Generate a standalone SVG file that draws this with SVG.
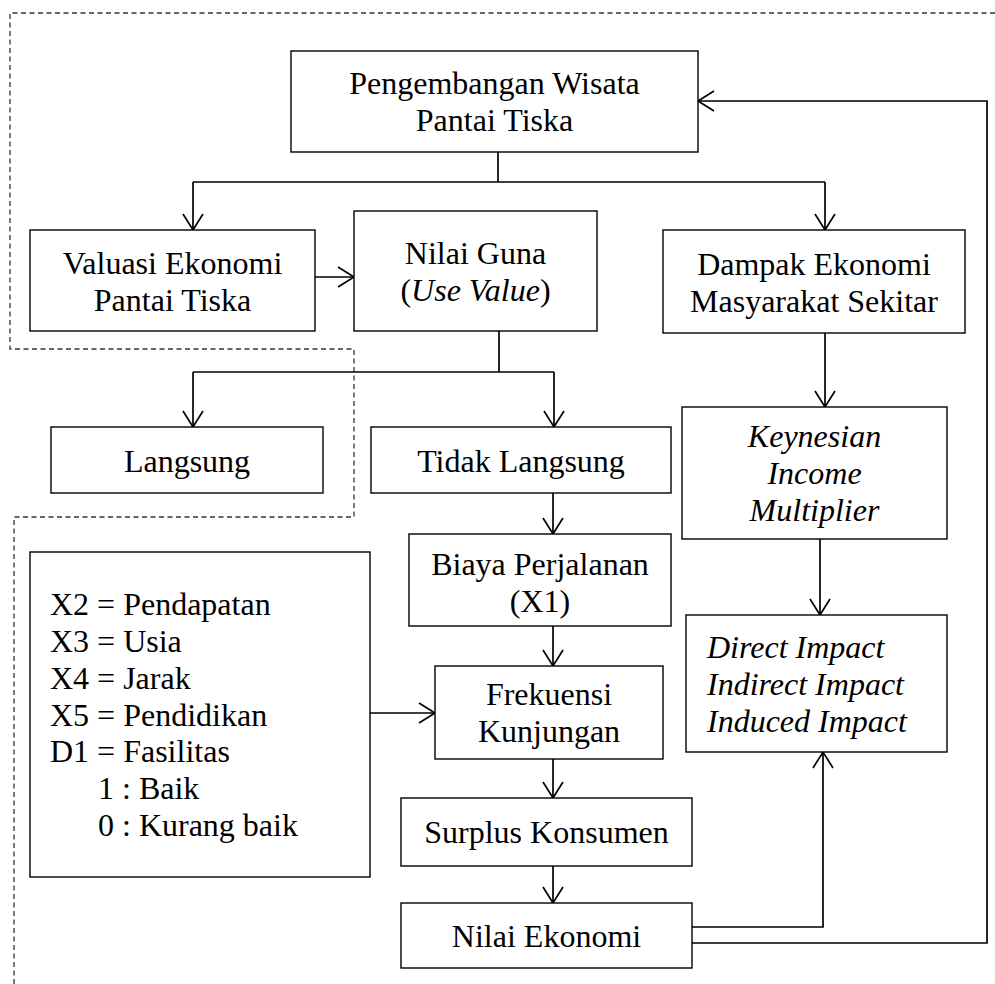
<svg xmlns="http://www.w3.org/2000/svg" width="995" height="984" viewBox="0 0 995 984">
<style>
.box{fill:#fff;stroke:#000;stroke-width:1.4}
.t{font-family:"Liberation Serif","Times New Roman",serif;font-size:32px;fill:#000}
.c{text-anchor:middle}
.i{font-style:italic}
.ln{fill:none;stroke:#000;stroke-width:1.7}
.ds{fill:none;stroke:#333;stroke-width:1.3;stroke-dasharray:5 3.5}
</style>
<defs>
<marker id="a" viewBox="-18 -12 20 24" refX="0" refY="0" markerWidth="20" markerHeight="24" orient="auto" markerUnits="userSpaceOnUse">
<path d="M-16,-10 L0,0 L-16,10" fill="none" stroke="#000" stroke-width="1.7"/>
</marker>
</defs>
<rect width="995" height="984" fill="#fff"/>
<path class="ds" d="M995,13 H10 V349 H354 V517 H14 V984"/>
<g id="connectors">
<path class="ln" d="M498,152 V182"/>
<path class="ln" d="M193,182 H825"/>
<path class="ln" d="M193,182 V230" marker-end="url(#a)"/>
<path class="ln" d="M825,182 V230" marker-end="url(#a)"/>
<path class="ln" d="M315,277 H354" marker-end="url(#a)"/>
<path class="ln" d="M499,331 V372"/>
<path class="ln" d="M193,372 H554"/>
<path class="ln" d="M193,372 V427" marker-end="url(#a)"/>
<path class="ln" d="M554,372 V427" marker-end="url(#a)"/>
<path class="ln" d="M825,333 V407" marker-end="url(#a)"/>
<path class="ln" d="M820,539 V615" marker-end="url(#a)"/>
<path class="ln" d="M553,493 V534" marker-end="url(#a)"/>
<path class="ln" d="M553,626 V666" marker-end="url(#a)"/>
<path class="ln" d="M370,713 H435" marker-end="url(#a)"/>
<path class="ln" d="M553,759 V798" marker-end="url(#a)"/>
<path class="ln" d="M553,866 V903" marker-end="url(#a)"/>
<path class="ln" d="M692,927 H823 V752" marker-end="url(#a)"/>
<path class="ln" d="M692,943 H987 V101 H698" marker-end="url(#a)"/>
</g>
<g id="pengembangan">
<rect class="box" x="291" y="51" width="407" height="101"/>
<text class="t c" x="494.5" y="94">Pengembangan Wisata</text>
<text class="t c" x="494.5" y="131">Pantai Tiska</text>
</g>
<g id="valuasi">
<rect class="box" x="30" y="230" width="285" height="101"/>
<text class="t c" x="172.5" y="274">Valuasi Ekonomi</text>
<text class="t c" x="172.5" y="311">Pantai Tiska</text>
</g>
<g id="nilaiguna">
<rect class="box" x="354" y="211" width="243" height="120"/>
<text class="t c" x="475.5" y="264">Nilai Guna</text>
<text class="t c" x="475.5" y="301">(<tspan class="i">Use Value</tspan>)</text>
</g>
<g id="dampak">
<rect class="box" x="663" y="230" width="302" height="103"/>
<text class="t c" x="814" y="275">Dampak Ekonomi</text>
<text class="t c" x="814" y="312">Masyarakat Sekitar</text>
</g>
<g id="langsung">
<rect class="box" x="51" y="427" width="272" height="66"/>
<text class="t c" x="187" y="472">Langsung</text>
</g>
<g id="tidaklangsung">
<rect class="box" x="371" y="427" width="300" height="66"/>
<text class="t c" x="521" y="472">Tidak Langsung</text>
</g>
<g id="keynesian">
<rect class="box" x="682" y="407" width="265" height="132"/>
<text class="t c i" x="814.5" y="447">Keynesian</text>
<text class="t c i" x="814.5" y="484">Income</text>
<text class="t c i" x="814.5" y="521">Multiplier</text>
</g>
<g id="biaya">
<rect class="box" x="409" y="534" width="262" height="92"/>
<text class="t c" x="540" y="575">Biaya Perjalanan</text>
<text class="t c" x="540" y="612">(X1)</text>
</g>
<g id="legend">
<rect class="box" x="30" y="552" width="340" height="325"/>
<text class="t" x="50" y="615">X2 = Pendapatan</text>
<text class="t" x="50" y="652">X3 = Usia</text>
<text class="t" x="50" y="689">X4 = Jarak</text>
<text class="t" x="50" y="726">X5 = Pendidikan</text>
<text class="t" x="50" y="762">D1 = Fasilitas</text>
<text class="t" x="98" y="799">1 : Baik</text>
<text class="t" x="98" y="836">0 : Kurang baik</text>
</g>
<g id="frekuensi">
<rect class="box" x="435" y="666" width="228" height="93"/>
<text class="t c" x="549" y="705">Frekuensi</text>
<text class="t c" x="549" y="742">Kunjungan</text>
</g>
<g id="impact">
<rect class="box" x="686" y="615" width="261" height="137"/>
<text class="t i" x="707" y="658">Direct Impact</text>
<text class="t i" x="707" y="695">Indirect Impact</text>
<text class="t i" x="707" y="732">Induced Impact</text>
</g>
<g id="surplus">
<rect class="box" x="401" y="798" width="291" height="68"/>
<text class="t c" x="546.5" y="843">Surplus Konsumen</text>
</g>
<g id="nilaiekonomi">
<rect class="box" x="401" y="903" width="291" height="65"/>
<text class="t c" x="546.5" y="947">Nilai Ekonomi</text>
</g>
</svg>
